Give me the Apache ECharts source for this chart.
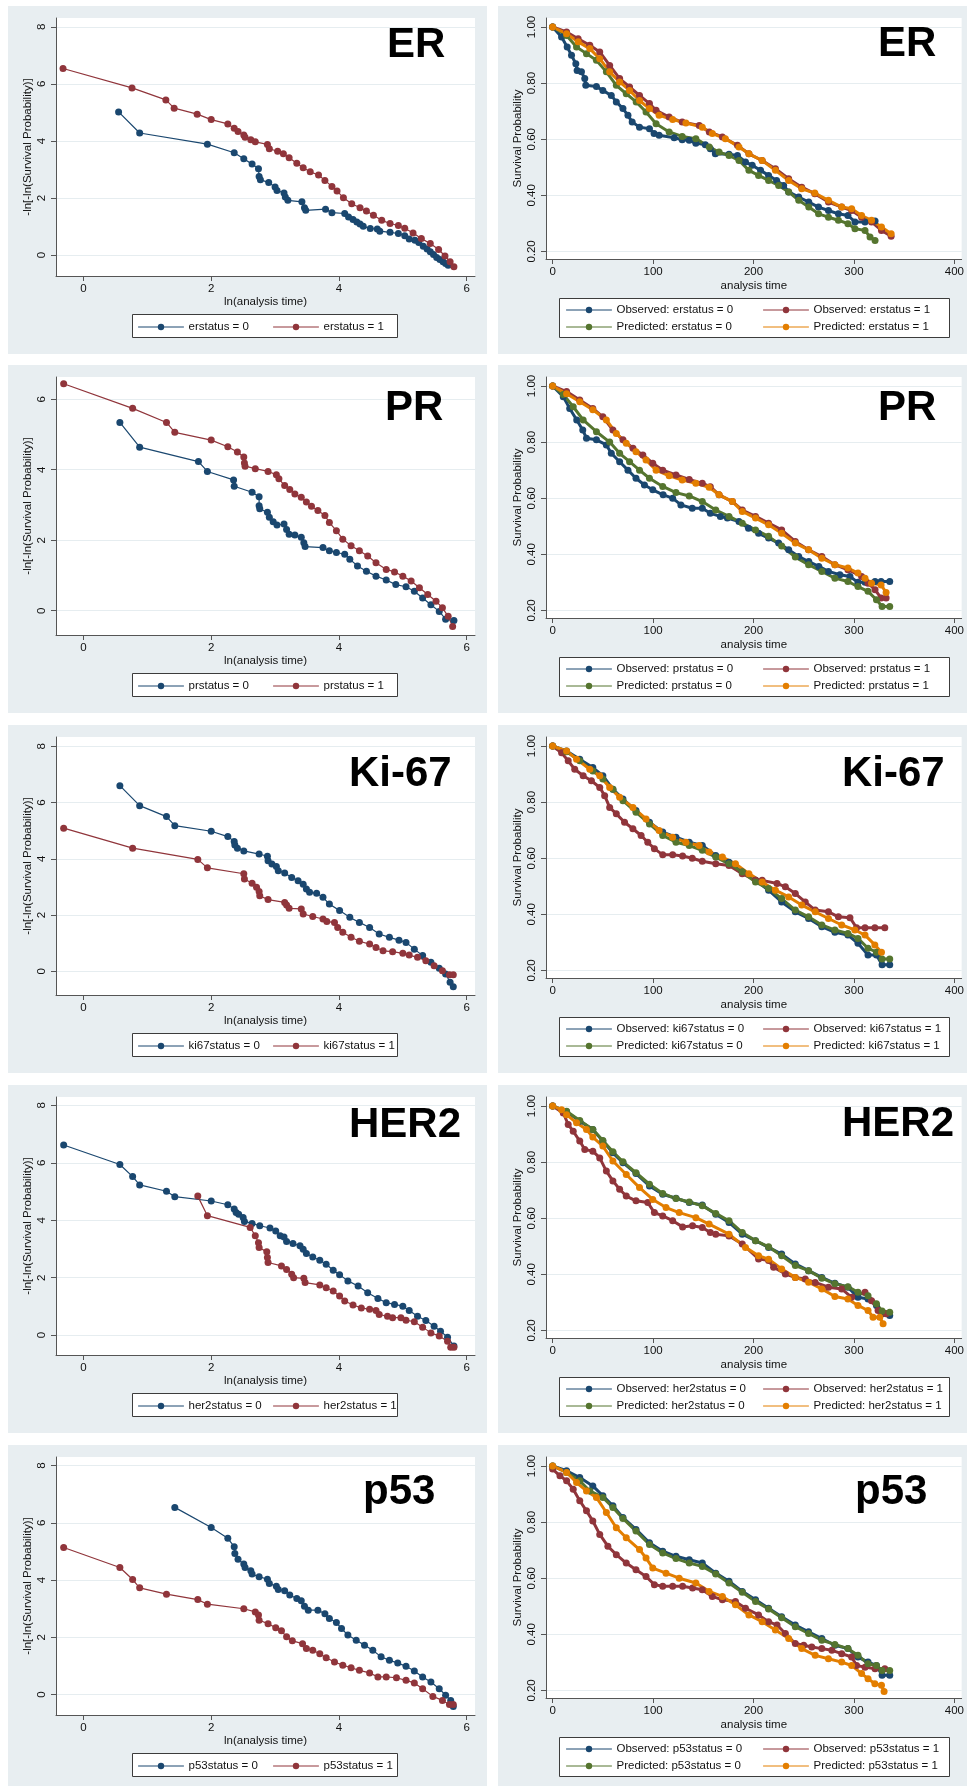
<!DOCTYPE html>
<html>
<head>
<meta charset="utf-8">
<title>Log-log and observed vs predicted survival</title>
<script src="https://cdn.jsdelivr.net/npm/echarts@6.0.0/dist/echarts.min.js"></script>
<style>
  html, body { margin: 0; padding: 0; background: #fff; }
  body { position: relative; width: 967px; height: 1786px; overflow: hidden; }
  .panel { position: absolute; background: #e8eef1; }
</style>
</head>
<body>
<script>
// tick values
const lnXTicks = [0, 2, 4, 6];
const lnYTicks = [0, 2, 4, 6, 8];
const prYTicks = [0, 2, 4, 6];
const timeTicks = [0, 100, 200, 300, 400];
const survTicks = [0.2, 0.4, 0.6, 0.8, 1.0];

const markers = ['ER', 'PR', 'Ki-67', 'HER2', 'p53'];
const varNames = ['erstatus', 'prstatus', 'ki67status', 'her2status', 'p53status'];

// -ln(-ln S) vs ln(t), status 0 / status 1
const erLn0 = [[0.55,5.02],[0.88,4.28],[1.94,3.89],[2.36,3.59],[2.51,3.38],[2.64,3.19],[2.74,3.03],[2.75,2.76],[2.77,2.64],[2.90,2.55],[3.00,2.39],[3.03,2.27],[3.14,2.18],[3.16,2.04],[3.20,1.92],[3.42,1.87],[3.46,1.66],[3.48,1.57],[3.79,1.61],[3.89,1.49],[4.09,1.46],[4.15,1.34],[4.22,1.25],[4.28,1.16],[4.33,1.09],[4.38,1.01],[4.49,0.93],[4.60,0.92],[4.64,0.84],[4.80,0.80],[4.93,0.76],[5.03,0.68],[5.10,0.57],[5.19,0.52],[5.25,0.44],[5.32,0.31],[5.38,0.22],[5.43,0.12],[5.48,0.02],[5.53,-0.08],[5.58,-0.15],[5.63,-0.23],[5.67,-0.29],[5.71,-0.35]];
const erLn1 = [[-0.32,6.54],[0.76,5.86],[1.29,5.44],[1.42,5.15],[1.78,4.94],[2.00,4.75],[2.26,4.60],[2.36,4.45],[2.42,4.33],[2.51,4.21],[2.53,4.13],[2.62,4.04],[2.69,3.97],[2.88,3.88],[2.91,3.73],[3.04,3.64],[3.13,3.55],[3.22,3.41],[3.34,3.22],[3.44,3.06],[3.55,2.92],[3.68,2.81],[3.78,2.62],[3.89,2.41],[3.97,2.25],[4.07,2.01],[4.20,1.80],[4.33,1.66],[4.43,1.55],[4.54,1.40],[4.67,1.22],[4.80,1.11],[4.93,1.04],[5.03,0.94],[5.16,0.78],[5.29,0.58],[5.43,0.41],[5.56,0.20],[5.66,-0.03],[5.74,-0.23],[5.80,-0.41]];
const prLn0 = [[0.57,5.34],[0.88,4.64],[1.80,4.23],[1.94,3.95],[2.35,3.71],[2.36,3.53],[2.64,3.36],[2.75,3.23],[2.75,2.98],[2.76,2.89],[2.88,2.79],[2.91,2.65],[2.97,2.52],[3.03,2.43],[3.14,2.46],[3.18,2.30],[3.22,2.17],[3.31,2.15],[3.41,2.08],[3.45,1.93],[3.47,1.82],[3.75,1.79],[3.85,1.70],[3.96,1.65],[4.09,1.60],[4.17,1.46],[4.29,1.27],[4.43,1.12],[4.58,0.98],[4.74,0.87],[4.89,0.74],[5.05,0.68],[5.18,0.55],[5.31,0.36],[5.44,0.17],[5.57,-0.02],[5.67,-0.24],[5.80,-0.28]];
const prLn1 = [[-0.31,6.44],[0.77,5.74],[1.30,5.34],[1.43,5.06],[2.00,4.84],[2.26,4.65],[2.41,4.50],[2.51,4.36],[2.52,4.19],[2.53,4.10],[2.69,4.03],[2.89,3.95],[3.02,3.86],[3.06,3.74],[3.15,3.55],[3.23,3.44],[3.31,3.31],[3.41,3.22],[3.49,3.08],[3.57,2.96],[3.67,2.84],[3.78,2.70],[3.85,2.50],[3.96,2.27],[4.06,2.03],[4.19,1.84],[4.32,1.70],[4.45,1.55],[4.58,1.36],[4.74,1.17],[4.87,1.10],[5.00,0.98],[5.13,0.84],[5.26,0.65],[5.39,0.46],[5.52,0.27],[5.62,0.08],[5.71,-0.16],[5.78,-0.45]];
const kiLn0 = [[0.57,6.60],[0.88,5.89],[1.30,5.50],[1.43,5.18],[2.00,4.98],[2.26,4.79],[2.36,4.62],[2.37,4.49],[2.41,4.38],[2.51,4.28],[2.75,4.17],[2.88,4.09],[2.89,3.93],[2.95,3.82],[3.02,3.73],[3.05,3.58],[3.15,3.50],[3.26,3.34],[3.36,3.22],[3.44,3.10],[3.49,2.93],[3.54,2.81],[3.65,2.78],[3.75,2.63],[3.85,2.39],[4.01,2.16],[4.17,1.92],[4.32,1.74],[4.48,1.56],[4.63,1.33],[4.79,1.21],[4.94,1.11],[5.05,1.03],[5.18,0.79],[5.31,0.56],[5.44,0.32],[5.57,0.11],[5.67,-0.09],[5.74,-0.39],[5.79,-0.55]];
const kiLn1 = [[-0.31,5.09],[0.77,4.38],[1.79,3.98],[1.94,3.68],[2.51,3.47],[2.52,3.28],[2.64,3.13],[2.71,2.99],[2.75,2.84],[2.76,2.69],[2.89,2.55],[3.15,2.45],[3.18,2.36],[3.22,2.24],[3.41,2.22],[3.44,2.04],[3.59,1.95],[3.75,1.86],[3.81,1.77],[3.93,1.74],[3.98,1.56],[4.06,1.39],[4.19,1.21],[4.32,1.07],[4.48,0.97],[4.58,0.85],[4.69,0.73],[4.84,0.70],[5.00,0.64],[5.10,0.58],[5.23,0.50],[5.36,0.38],[5.49,0.20],[5.62,0.02],[5.73,-0.12],[5.79,-0.12]];
const heLn0 = [[-0.31,6.62],[0.57,5.94],[0.77,5.52],[0.88,5.23],[1.30,5.01],[1.43,4.82],[2.00,4.67],[2.26,4.54],[2.36,4.39],[2.39,4.27],[2.43,4.21],[2.50,4.10],[2.52,3.96],[2.64,3.89],[2.76,3.81],[2.92,3.73],[3.01,3.63],[3.08,3.46],[3.14,3.42],[3.18,3.26],[3.28,3.19],[3.39,3.11],[3.44,2.99],[3.49,2.84],[3.59,2.72],[3.70,2.61],[3.80,2.47],[3.91,2.26],[4.01,2.10],[4.14,1.89],[4.30,1.71],[4.45,1.48],[4.61,1.28],[4.74,1.13],[4.87,1.07],[5.00,1.01],[5.10,0.86],[5.23,0.66],[5.36,0.51],[5.49,0.31],[5.59,0.14],[5.70,-0.07],[5.80,-0.38]];
const heLn1 = [[1.79,4.84],[1.94,4.16],[2.61,3.75],[2.69,3.46],[2.74,3.22],[2.75,3.05],[2.87,2.90],[2.88,2.70],[2.89,2.53],[3.10,2.41],[3.18,2.29],[3.26,2.12],[3.29,2.00],[3.45,1.98],[3.47,1.83],[3.70,1.75],[3.80,1.65],[3.91,1.54],[4.01,1.36],[4.09,1.19],[4.22,1.05],[4.35,0.95],[4.48,0.90],[4.58,0.86],[4.63,0.72],[4.76,0.66],[4.84,0.61],[4.97,0.61],[5.05,0.52],[5.18,0.47],[5.31,0.28],[5.44,0.08],[5.57,-0.03],[5.70,-0.21],[5.75,-0.42],[5.80,-0.42]];
const p5Ln0 = [[1.43,6.54],[2.00,5.84],[2.26,5.46],[2.36,5.17],[2.37,4.93],[2.42,4.73],[2.51,4.56],[2.53,4.44],[2.62,4.33],[2.64,4.21],[2.75,4.12],[2.88,4.03],[2.91,3.88],[3.02,3.79],[3.05,3.67],[3.15,3.63],[3.23,3.48],[3.34,3.36],[3.41,3.28],[3.46,3.09],[3.52,2.95],[3.67,2.95],[3.78,2.83],[3.85,2.66],[3.96,2.52],[4.04,2.31],[4.14,2.08],[4.27,1.90],[4.40,1.73],[4.53,1.55],[4.66,1.32],[4.79,1.20],[4.92,1.11],[5.05,0.99],[5.18,0.83],[5.31,0.62],[5.44,0.44],[5.57,0.21],[5.67,-0.02],[5.75,-0.20],[5.79,-0.41]];
const p5Ln1 = [[-0.31,5.14],[0.57,4.44],[0.77,4.02],[0.88,3.73],[1.30,3.51],[1.79,3.32],[1.94,3.16],[2.51,3.00],[2.69,2.89],[2.74,2.78],[2.75,2.60],[2.89,2.48],[3.01,2.34],[3.10,2.23],[3.18,2.02],[3.27,1.88],[3.43,1.78],[3.49,1.61],[3.59,1.55],[3.70,1.43],[3.80,1.29],[3.93,1.14],[4.06,1.03],[4.19,0.94],[4.32,0.85],[4.48,0.76],[4.61,0.62],[4.74,0.62],[4.90,0.59],[5.05,0.50],[5.18,0.41],[5.31,0.21],[5.47,-0.06],[5.62,-0.20],[5.73,-0.34],[5.79,-0.34]];

// survival probability vs analysis time: observed / predicted, status 0 / status 1
const erObs0 = [[0,1.0],[8.9,0.964],[14.5,0.929],[18.8,0.899],[23.1,0.869],[24.4,0.845],[28.7,0.84],[32,0.816],[33,0.792],[43.6,0.788],[50,0.774],[58.4,0.756],[63.4,0.733],[70,0.709],[75,0.685],[79.2,0.661],[86.5,0.643],[96.4,0.637],[101,0.62],[106,0.614],[121,0.605],[129,0.598],[136,0.596],[142.6,0.586],[152,0.58],[157,0.566],[162,0.548],[175.6,0.546],[184,0.542],[192,0.519],[198.7,0.507],[207,0.489],[215,0.471],[223,0.453],[230,0.435],[235,0.412],[245,0.394],[255,0.376],[264.7,0.358],[274.6,0.346],[284.5,0.334],[294,0.328],[301,0.305],[311,0.305],[321,0.308]];
const erObs1 = [[0,1.0],[13.9,0.982],[25.4,0.958],[37,0.935],[46.9,0.911],[56.8,0.863],[66.7,0.816],[76.6,0.786],[86.5,0.756],[96.4,0.727],[103,0.703],[116,0.679],[129,0.661],[146,0.649],[156,0.626],[169,0.608],[184,0.578],[195.4,0.548],[208.6,0.524],[221.8,0.495],[235,0.459],[248,0.429],[261,0.406],[274.6,0.376],[287.8,0.358],[297.7,0.346],[307.6,0.322],[317.5,0.305],[327.4,0.275],[337,0.254]];
const erPred0 = [[0,1.0],[13.9,0.97],[23.8,0.929],[33.7,0.905],[43.6,0.881],[53.5,0.84],[63.4,0.792],[73.3,0.762],[83.2,0.733],[93,0.697],[103,0.655],[116,0.626],[129,0.61],[142.6,0.602],[156,0.572],[165.7,0.554],[175.6,0.542],[185.5,0.524],[195.4,0.489],[205,0.471],[215,0.453],[225,0.435],[235,0.412],[245,0.382],[255,0.358],[264.7,0.334],[274.6,0.322],[284.5,0.311],[294,0.299],[301,0.281],[311,0.275],[316,0.251],[321,0.239]];
const erPred1 = [[0,1.0],[13.9,0.976],[25.4,0.947],[37,0.923],[46.9,0.887],[56.8,0.84],[66.7,0.804],[76.6,0.774],[86.5,0.738],[96.4,0.709],[106,0.685],[119.5,0.67],[132.7,0.658],[149,0.643],[159,0.62],[172,0.602],[185.5,0.572],[195.4,0.548],[208.6,0.524],[221.8,0.489],[235,0.453],[248,0.423],[261,0.408],[274.6,0.382],[287.8,0.358],[297.7,0.352],[307.6,0.328],[317.5,0.311],[327.4,0.287],[337,0.263]];

const prObs0 = [[0,1.0],[10.6,0.962],[17,0.92],[24,0.879],[30,0.843],[33.7,0.814],[43.6,0.808],[53.5,0.79],[58.4,0.76],[66.7,0.73],[75,0.70],[83,0.671],[91.4,0.647],[99.7,0.63],[110,0.612],[119.5,0.60],[127.7,0.576],[139,0.564],[149,0.564],[157,0.546],[167,0.535],[174,0.529],[185.5,0.517],[195,0.493],[205,0.475],[215,0.458],[225,0.44],[235,0.416],[245,0.392],[255,0.374],[265,0.357],[274.6,0.339],[286,0.327],[296,0.321],[304,0.30],[311,0.30],[321,0.303],[327,0.303],[335.6,0.303]];
const prObs1 = [[0,1.0],[13.9,0.98],[27,0.95],[40,0.92],[50,0.89],[60,0.843],[70,0.808],[80,0.778],[89.8,0.754],[99.7,0.725],[109.6,0.70],[122.8,0.683],[136,0.667],[149,0.653],[157,0.641],[165.7,0.612],[179,0.588],[188.8,0.558],[202,0.535],[215,0.511],[228,0.487],[241.6,0.446],[254.8,0.416],[268,0.392],[281,0.363],[294,0.345],[307.6,0.321],[314,0.297],[321,0.274],[327,0.244],[332,0.244]];
const prPred0 = [[0,1.0],[10.6,0.97],[20.5,0.926],[30.4,0.879],[43.6,0.837],[56.8,0.80],[66.7,0.76],[76.6,0.73],[86.5,0.70],[96.4,0.671],[109.6,0.642],[122.8,0.62],[136,0.608],[149,0.588],[162.4,0.558],[175.6,0.535],[188.8,0.511],[202,0.487],[215,0.464],[228,0.43],[241.6,0.39],[254.8,0.363],[268,0.339],[281,0.315],[294,0.303],[304,0.285],[314,0.268],[322.4,0.238],[328,0.214],[335.6,0.214]];
const prPred1 = [[0,1.0],[13.9,0.972],[27,0.944],[40,0.915],[53.5,0.879],[63.4,0.831],[73.3,0.796],[83,0.766],[93,0.736],[103,0.70],[116,0.68],[129,0.665],[142.6,0.653],[155.8,0.639],[165.7,0.612],[179,0.588],[188.8,0.553],[202,0.529],[215,0.505],[228,0.475],[241.6,0.44],[254.8,0.416],[268,0.386],[281,0.363],[294,0.351],[304,0.333],[311,0.315],[317.5,0.297],[327,0.291],[332,0.264]];

const kiObs0 = [[0,1.0],[13.9,0.982],[27,0.953],[40,0.923],[50,0.894],[60,0.846],[70,0.811],[83,0.77],[96.4,0.728],[109.6,0.693],[122.8,0.675],[136,0.657],[149,0.645],[162.4,0.61],[175.6,0.586],[188.8,0.551],[202,0.521],[215,0.486],[228,0.444],[241.6,0.409],[254.8,0.385],[268,0.356],[281,0.336],[294,0.326],[304,0.297],[314,0.255],[322.4,0.255],[328,0.22],[335.6,0.22]];
const kiObs1 = [[0,1.0],[8.9,0.976],[15.5,0.947],[22,0.917],[30.4,0.894],[38.6,0.876],[46.9,0.852],[51.8,0.823],[56.8,0.781],[63.4,0.758],[71.6,0.728],[79.9,0.705],[88.1,0.681],[94.7,0.657],[101.3,0.634],[109.6,0.612],[119.5,0.612],[129.4,0.608],[139,0.60],[149,0.589],[162.4,0.58],[175.6,0.574],[188.8,0.545],[202,0.521],[208.6,0.521],[223.4,0.51],[231.7,0.498],[241.6,0.474],[251.5,0.444],[261.4,0.415],[274.6,0.409],[284.5,0.391],[296,0.388],[302.6,0.352],[311,0.352],[320.8,0.352],[330.7,0.352]];
const kiPred0 = [[0,1.0],[13.9,0.979],[27,0.947],[40,0.911],[50,0.882],[60,0.846],[70,0.805],[83,0.764],[96.4,0.722],[109.6,0.681],[122.8,0.657],[136,0.645],[149,0.628],[162.4,0.604],[175.6,0.58],[188.8,0.551],[202,0.515],[215,0.492],[228,0.456],[241.6,0.415],[254.8,0.391],[268,0.362],[281,0.344],[294,0.332],[304,0.314],[314,0.279],[322.4,0.265],[328,0.241],[335.6,0.241]];
const kiPred1 = [[0,1.0],[13.9,0.982],[23.8,0.953],[37,0.917],[46.9,0.894],[56.8,0.852],[66.7,0.817],[80,0.781],[93,0.74],[106,0.699],[119.5,0.675],[132.7,0.657],[145.9,0.645],[155.8,0.622],[169,0.604],[182,0.58],[195.4,0.545],[208.6,0.515],[221.8,0.486],[235,0.462],[248,0.433],[261.4,0.409],[274.6,0.385],[287.8,0.362],[300.9,0.344],[311,0.326],[320.8,0.291],[327.4,0.265]];

const heObs0 = [[0,1.0],[13.9,0.979],[27,0.946],[40,0.916],[50,0.875],[60,0.833],[70,0.798],[83,0.759],[96.4,0.715],[109.6,0.685],[122.8,0.671],[136,0.656],[149,0.647],[162.4,0.614],[175.6,0.585],[188.8,0.543],[202,0.52],[215,0.496],[228,0.472],[241.6,0.437],[254.8,0.413],[268,0.389],[281,0.368],[294,0.354],[304,0.318],[314,0.312],[322.4,0.289],[328,0.259],[335.6,0.253]];
const heObs1 = [[0,1.0],[10.6,0.975],[15.5,0.934],[20.5,0.91],[27,0.875],[32,0.845],[40,0.839],[46.9,0.815],[53.5,0.768],[60,0.733],[66.7,0.703],[73.3,0.679],[83,0.662],[94.7,0.656],[101.3,0.62],[109.6,0.608],[119.5,0.591],[129.4,0.569],[139.3,0.573],[149,0.567],[157,0.549],[162.4,0.543],[175.6,0.537],[188.8,0.508],[205,0.455],[215,0.449],[220,0.425],[231.7,0.401],[241.6,0.389],[251.5,0.383],[261.4,0.371],[274.6,0.354],[287.8,0.348],[297.7,0.318],[311,0.336],[317.5,0.306],[324,0.271],[332,0.259]];
const hePred0 = [[0,1.0],[13.9,0.981],[27,0.948],[40,0.916],[50,0.877],[60,0.837],[70,0.801],[83,0.762],[96.4,0.721],[109.6,0.688],[122.8,0.67],[136,0.658],[149,0.644],[162.4,0.617],[175.6,0.591],[188.8,0.549],[202,0.52],[215,0.498],[228,0.466],[241.6,0.431],[254.8,0.413],[268,0.386],[281,0.366],[294,0.356],[304,0.336],[314,0.324],[322.4,0.295],[328,0.269],[335.6,0.265]];
const hePred1 = [[0,1.0],[8.9,0.987],[13.9,0.969],[23.8,0.94],[33.7,0.916],[40,0.889],[50,0.857],[60,0.804],[73.3,0.756],[86.5,0.709],[99.7,0.667],[112.9,0.638],[126,0.62],[142.6,0.602],[155.8,0.579],[175.6,0.543],[192,0.496],[205,0.466],[215,0.454],[228,0.419],[241.6,0.389],[254.8,0.372],[268,0.348],[281,0.321],[294,0.312],[304,0.289],[314,0.271],[319,0.247],[325.7,0.247],[329,0.224]];

const p5Obs0 = [[0,1.0],[13.9,0.983],[27,0.959],[40,0.929],[50,0.894],[60,0.858],[70,0.816],[83,0.774],[96.4,0.726],[109.6,0.696],[122.8,0.678],[136,0.666],[149,0.654],[162.4,0.618],[175.6,0.589],[188.8,0.553],[202,0.523],[215,0.493],[228,0.463],[241.6,0.433],[254.8,0.409],[268,0.385],[281,0.361],[294,0.349],[304,0.319],[314,0.301],[322.4,0.289],[328,0.254],[335.6,0.254]];
const p5Obs1 = [[0,0.989],[7.3,0.965],[13.9,0.947],[20.5,0.917],[27,0.876],[33.7,0.84],[40,0.804],[46.9,0.756],[55,0.714],[63.4,0.684],[73.3,0.654],[83,0.63],[93,0.606],[101.3,0.577],[109.6,0.571],[119.5,0.571],[129.4,0.571],[139.3,0.565],[149,0.559],[159,0.535],[169,0.523],[182,0.517],[192,0.493],[205,0.469],[215,0.445],[223.4,0.433],[231.7,0.403],[241.6,0.367],[250,0.361],[258,0.355],[268,0.349],[278,0.343],[287.8,0.331],[297.7,0.319],[302.6,0.289],[311,0.283],[321,0.277],[330.7,0.277]];
const p5Pred0 = [[0,1.0],[13.9,0.977],[27,0.947],[37,0.911],[50,0.888],[60,0.852],[70,0.813],[83,0.768],[96.4,0.72],[109.6,0.69],[122.8,0.67],[136,0.654],[149,0.642],[162.4,0.615],[175.6,0.583],[188.8,0.55],[202,0.517],[215,0.49],[228,0.459],[241.6,0.427],[254.8,0.403],[268,0.379],[281,0.364],[294,0.349],[304,0.325],[314,0.295],[322.4,0.289],[328,0.271],[335.6,0.271]];
const p5Pred1 = [[0,1.0],[13.9,0.977],[23.8,0.941],[33.7,0.911],[43.6,0.888],[53.5,0.834],[63.4,0.78],[73.3,0.744],[86.5,0.702],[93,0.672],[99.7,0.636],[112.9,0.618],[126,0.60],[142.6,0.583],[155.8,0.553],[169,0.535],[182,0.505],[195.4,0.469],[208.6,0.445],[221.8,0.415],[235,0.385],[248,0.349],[261.4,0.325],[274.6,0.313],[287.8,0.301],[297.7,0.289],[307.6,0.26],[314,0.242],[320.8,0.224],[327.4,0.218],[330,0.196]];

const lnSets = [[erLn0, erLn1], [prLn0, prLn1], [kiLn0, kiLn1], [heLn0, heLn1], [p5Ln0, p5Ln1]];
const survSets = [
  [erObs0, erObs1, erPred0, erPred1],
  [prObs0, prObs1, prPred0, prPred1],
  [kiObs0, kiObs1, kiPred0, kiPred1],
  [heObs0, heObs1, hePred0, hePred1],
  [p5Obs0, p5Obs1, p5Pred0, p5Pred1]
];

// layout
const FONT = '"Liberation Sans", Arial, Helvetica, sans-serif';
const NAVY = '#1a476f', MAROON = '#90353b', GREEN = '#55752f', ORANGE = '#e37e00';
const rowTops = [6, 365, 725, 1085, 1445];
const panelH = 348;
const lnYRange = [[-0.73, 8.31], [-0.69, 6.63], [-0.84, 8.33], [-0.69, 8.29], [-0.71, 8.30]];
const leftLabelPos = [[379, 42], [377, 46], [341, 52], [341, 43], [355, 50]];
const rightLabelPos = [[380, 41], [380, 46], [344, 52], [344, 42], [357, 50]];

const txt = { fontFamily: FONT, fontSize: 11.5, color: '#111' };
const axisGray = '#555';

function makePanel(x, y, w) {
  const div = document.createElement('div');
  div.className = 'panel';
  div.style.left = x + 'px';
  div.style.top = y + 'px';
  div.style.width = w + 'px';
  div.style.height = panelH + 'px';
  document.body.appendChild(div);
  return echarts.init(div, null, { renderer: 'canvas' });
}

// dense marker runs read as a thick band, so the joining line is drawn wider
function lineSeries(name, data, color, width, size) {
  return {
    name: name,
    type: 'line',
    data: data,
    symbol: 'circle',
    symbolSize: size,
    showAllSymbol: true,
    itemStyle: { color: color },
    lineStyle: { color: color, width: width, cap: 'round', join: 'round' },
    emphasis: { disabled: true },
    animation: false
  };
}

function legendItem(name, left, centerY) {
  return {
    data: [name],
    left: left,
    top: centerY - 7,
    padding: 0,
    itemWidth: 45,
    itemHeight: 8,
    itemGap: 0,
    selectedMode: false,
    z: 10,
    lineStyle: { width: 1 },
    textStyle: Object.assign({ lineHeight: 14 }, txt)
  };
}

function bigLabel(text, pos) {
  return {
    type: 'text',
    left: pos[0],
    top: pos[1] - 24,
    z: 10,
    style: { text: text, font: 'bold 42px ' + FONT, fill: '#000' }
  };
}

function legendBox(x, y, w, h) {
  return {
    type: 'rect',
    z: 1,
    shape: { x: x, y: y, width: w, height: h },
    style: { fill: '#fff', stroke: '#3c3c3c', lineWidth: 1 }
  };
}

function valueAxis(opt) {
  return Object.assign({
    type: 'value',
    nameLocation: 'middle',
    nameMoveOverlap: false,
    nameTextStyle: txt,
    axisLine: { show: true, onZero: false, lineStyle: { color: axisGray, width: 1 } },
    axisTick: { show: true, inside: false, length: 5, lineStyle: { color: axisGray } },
    splitLine: { show: false }
  }, opt);
}

// left column: -ln[-ln(S)] vs ln(t)
markers.forEach(function (m, i) {
  const chart = makePanel(8, rowTops[i], 479);
  const v = varNames[i];
  const yTicks = i === 1 ? prYTicks : lnYTicks;
  chart.setOption({
    animation: false,
    grid: { left: 48, top: 12, width: 419, height: 258, show: true, backgroundColor: '#fff', borderWidth: 0 },
    xAxis: valueAxis({
      min: -0.43, max: 6.13,
      name: 'ln(analysis time)', nameGap: 20,
      axisTick: { show: true, length: 5, customValues: lnXTicks, lineStyle: { color: axisGray } },
      axisLabel: Object.assign({ customValues: lnXTicks, margin: 7 }, txt)
    }),
    yAxis: valueAxis({
      min: lnYRange[i][0], max: lnYRange[i][1],
      name: '-ln[-ln(Survival Probability)]', nameGap: 22, nameRotate: 90,
      axisTick: { show: true, length: 5, customValues: yTicks, lineStyle: { color: axisGray } },
      axisLabel: Object.assign({ customValues: yTicks, margin: 8, rotate: 90 }, txt),
      splitLine: { show: true, lineStyle: { color: '#e6edf0', width: 1 } }
    }),
    legend: [
      legendItem(v + ' = 0', 130, 321),
      legendItem(v + ' = 1', 265, 321)
    ],
    graphic: [legendBox(124.5, 308.5, 265, 23), bigLabel(m, leftLabelPos[i])],
    series: [
      lineSeries(v + ' = 0', lnSets[i][0], NAVY, 1.2, 7),
      lineSeries(v + ' = 1', lnSets[i][1], MAROON, 1.2, 7)
    ]
  });
});

// right column: observed vs predicted survival
markers.forEach(function (m, i) {
  const chart = makePanel(498, rowTops[i], 469);
  const v = varNames[i];
  const names = ['Observed: ' + v + ' = 0', 'Observed: ' + v + ' = 1', 'Predicted: ' + v + ' = 0', 'Predicted: ' + v + ' = 1'];
  chart.setOption({
    animation: false,
    grid: { left: 48, top: 12, width: 418, height: 241, show: true, backgroundColor: '#fff', borderWidth: 0 },
    xAxis: valueAxis({
      min: -6.6, max: 407.2,
      name: 'analysis time', nameGap: 21,
      axisTick: { show: true, length: 5, customValues: timeTicks, lineStyle: { color: axisGray } },
      axisLabel: Object.assign({ customValues: timeTicks, margin: 7 }, txt)
    }),
    yAxis: valueAxis({
      min: 0.173, max: 1.032,
      name: 'Survival Probability', nameGap: 22, nameRotate: 90,
      axisTick: { show: true, length: 5, customValues: survTicks, lineStyle: { color: axisGray } },
      axisLabel: Object.assign({ customValues: survTicks, margin: 8, rotate: 90, formatter: function (val) { return val.toFixed(2); } }, txt),
      splitLine: { show: true, lineStyle: { color: '#e6edf0', width: 1 } }
    }),
    legend: [
      legendItem(names[0], 68, 304),
      legendItem(names[1], 265, 304),
      legendItem(names[2], 68, 321),
      legendItem(names[3], 265, 321)
    ],
    graphic: [legendBox(61.5, 292.5, 390, 39), bigLabel(m, rightLabelPos[i])],
    series: [
      lineSeries(names[0], survSets[i][0], NAVY, 3, 7),
      lineSeries(names[1], survSets[i][1], MAROON, 3, 7),
      lineSeries(names[2], survSets[i][2], GREEN, 3, 7),
      lineSeries(names[3], survSets[i][3], ORANGE, 3, 7)
    ]
  });
});
</script>
</body>
</html>
